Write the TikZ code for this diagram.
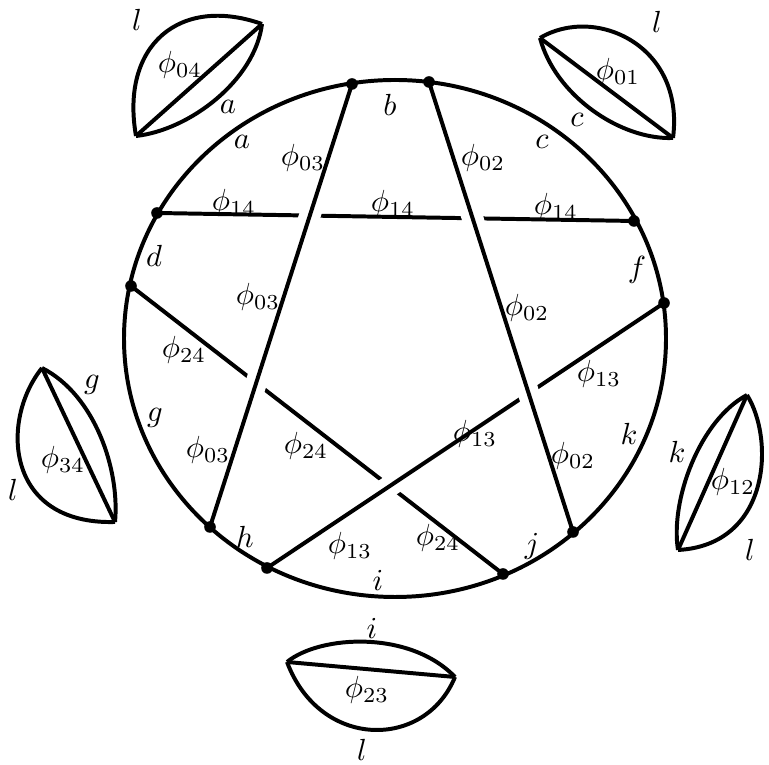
\documentclass[tikz,border=0pt]{standalone}
\usepackage{amsmath,amssymb}
\usepackage{tikz}

\begin{document}
\begin{tikzpicture}[x=0.0115cm, y=-0.0115cm, line width=1.3pt,
  over/.style={preaction={draw=white, line width=7pt}},
  dot/.style={fill=black}]
\useasboundingbox (0,0) rectangle (769,765);
% end points of the chords on the circle
\coordinate (pb1) at (352,84);
\coordinate (pb2) at (429,82);
\coordinate (pd1) at (157,213);
\coordinate (pf1) at (634,221);
\coordinate (pd2) at (131,286);
\coordinate (pf2) at (664,303);
\coordinate (ph1) at (210,527);
\coordinate (ph2) at (267,568);
\coordinate (pj1) at (503,574);
\coordinate (pj2) at (573,532);
% under strands first, over strands with a white halo
\draw (pd1) -- (pf1);              % phi14
\draw (pd2) -- (pj1);              % phi24
\draw[over] (pf2) -- (ph2);        % phi13, over phi24
\draw[over] (pb1) -- (ph1);        % phi03
\draw[over] (pb2) -- (pj2);        % phi02
\draw (395,338.5) circle[x radius=271, y radius=258.5];
\foreach \p in {pb1,pb2,pd1,pf1,pd2,pf2,ph1,ph2,pj1,pj2}
  \fill[dot] (\p) circle (1.9pt);

% labels on the circle
\node (lb) at (390,105) {$b$};
\node (la) at (242,142) {$a$};
\node (lc) at (542,142) {$c$};
\node (ld) at (154,256) {$d$};
\node (lf) at (637,270) {$f$};
\node (lg) at (155,418) {$g$};
\node (lk) at (629,434) {$k$};
\node (lh) at (245,537) {$h$};
\node (lj) at (532,546) {$j$};
\node (li) at (378,580) {$i$};
% labels on the chords
\node (f03a) at (303,158) {$\phi_{03}$};
\node (f03b) at (258,297) {$\phi_{03}$};
\node (f03c) at (208,450) {$\phi_{03}$};
\node (f02a) at (483,158) {$\phi_{02}$};
\node (f02b) at (527,308) {$\phi_{02}$};
\node (f02c) at (573,456) {$\phi_{02}$};
\node (f14a) at (234,203) {$\phi_{14}$};
\node (f14b) at (393,204) {$\phi_{14}$};
\node (f14c) at (556,207) {$\phi_{14}$};
\node (f24a) at (184,350) {$\phi_{24}$};
\node (f24b) at (306,446) {$\phi_{24}$};
\node (f24c) at (438,538) {$\phi_{24}$};
\node (f13a) at (599,374) {$\phi_{13}$};
\node (f13b) at (475,434) {$\phi_{13}$};
\node (f13c) at (350,546) {$\phi_{13}$};

% lens 04 (top left)
\coordinate (u1) at (136,136);
\coordinate (u2) at (262,24);
\draw (u1) .. controls (120,45) and (180,-5) .. (u2);
\draw (u1) .. controls (190,130) and (255,80) .. (u2);
\draw (u1) -- (u2);
\node (u3) at (137,20) {$l$};
\node (u4) at (180,65) {$\phi_{04}$};
\node (u5) at (228,107) {$a$};

% lens 01 (top right)
\coordinate (v1) at (540,38);
\coordinate (v2) at (673,138);
\draw (v1) .. controls (595,5) and (685,45) .. (v2);
\draw (v1) .. controls (555,95) and (620,140) .. (v2);
\draw (v1) -- (v2);
\node (v3) at (657,22) {$l$};
\node (v4) at (618,72) {$\phi_{01}$};
\node (v5) at (577,120) {$c$};

% lens 34 (left)
\coordinate (w1) at (42,368);
\coordinate (w2) at (115,522);
\draw (w1) .. controls (0,420) and (5,525) .. (w2);
\draw (w1) .. controls (95,395) and (120,470) .. (w2);
\draw (w1) -- (w2);
\node (w3) at (13,490) {$l$};
\node (w4) at (63,460) {$\phi_{34}$};
\node (w5) at (92,385) {$g$};

% lens 12 (right)
\coordinate (x1) at (747,395);
\coordinate (x2) at (678,550);
\draw (x1) .. controls (775,440) and (770,545) .. (x2);
\draw (x1) .. controls (700,420) and (670,500) .. (x2);
\draw (x1) -- (x2);
\node (x3) at (750,550) {$l$};
\node (x4) at (733,482) {$\phi_{12}$};
\node (x5) at (677,452) {$k$};

% lens 23 (bottom)
\coordinate (y1) at (287,662);
\coordinate (y2) at (455,677);
\draw (y1) .. controls (320,635) and (410,630) .. (y2);
\draw (y1) .. controls (320,750) and (425,750) .. (y2);
\draw (y1) -- (y2);
\node (y3) at (372,628) {$i$};
\node (y4) at (367,690) {$\phi_{23}$};
\node (y5) at (362,750) {$l$};
\end{tikzpicture}
\end{document}
